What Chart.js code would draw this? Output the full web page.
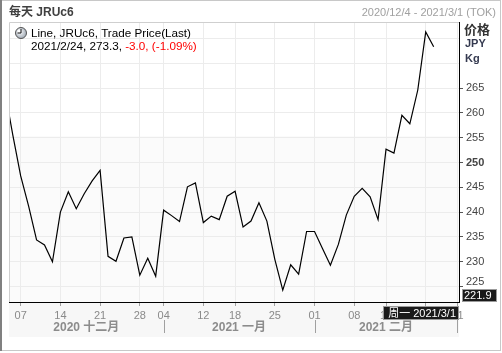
<!DOCTYPE html>
<html>
<head>
<meta charset="utf-8">
<script src="https://cdn.jsdelivr.net/npm/chart.js@4/dist/chart.umd.min.js"></script>
<style>
  html, body { margin: 0; padding: 0; background: #fff; }
  canvas { display: block; }
</style>
</head>
<body>
<canvas id="priceChart" width="502" height="353"></canvas>
<script>
// trading days (TOCOM), first one sits just left of the visible range
const tradeDates = [
  '2020-12-03', '2020-12-04', '2020-12-07', '2020-12-08', '2020-12-09', '2020-12-10', '2020-12-11',
  '2020-12-14', '2020-12-15', '2020-12-16', '2020-12-17', '2020-12-18',
  '2020-12-21', '2020-12-22', '2020-12-23', '2020-12-24', '2020-12-25',
  '2020-12-28', '2020-12-29', '2020-12-30',
  '2021-01-04', '2021-01-05', '2021-01-06', '2021-01-07', '2021-01-08',
  '2021-01-12', '2021-01-13', '2021-01-14', '2021-01-15',
  '2021-01-18', '2021-01-19', '2021-01-20', '2021-01-21', '2021-01-22',
  '2021-01-25', '2021-01-26', '2021-01-27', '2021-01-28', '2021-01-29',
  '2021-02-01', '2021-02-02', '2021-02-03', '2021-02-04', '2021-02-05',
  '2021-02-08', '2021-02-09', '2021-02-10', '2021-02-12',
  '2021-02-15', '2021-02-16', '2021-02-17', '2021-02-18', '2021-02-19',
  '2021-02-22', '2021-02-24', '2021-02-25', '2021-02-26',
  '2021-03-01'
];

// JRUc6 last trade price, JPY/kg
const prices = [
  264.5, 255.6, 247.3, 241.2, 234.4, 233.4, 230.0,
  240.0, 244.1, 240.7, 243.7, 246.3,
  248.4, 231.1, 230.1, 234.8, 235.0,
  227.3, 230.7, 227.1,
  240.4, 239.3, 238.1, 245.1, 245.9,
  237.9, 239.2, 238.5, 243.2,
  244.2, 237.0, 238.2, 241.9, 238.2,
  230.5, 224.3, 229.4, 227.5, 236.1,
  236.1, 232.7, 229.3, 233.5, 239.4,
  243.2, 244.8, 243.1, 238.5,
  252.7, 251.9, 259.5, 257.8, 264.6,
  276.3, 273.3
];

const yTicks = [225, 230, 235, 240, 245, 250, 255, 260, 265, 270, 275];
const monthNames = ['一月', '二月', '三月', '四月', '五月', '六月', '七月', '八月', '九月', '十月', '十一月', '十二月'];
const weekNames = ['周日', '周一', '周二', '周三', '周四', '周五', '周六'];

const title = '每天 JRUc6';
const rangeText = '2020/12/4 - 2021/3/1 (TOK)';
const legendName = 'Line, JRUc6, Trade Price(Last)';
const lastText = '2021/2/24, 273.3, ';
const changeText = '-3.0, (-1.09%)';
const axisUnits = ['价格', 'JPY', 'Kg'];
const yMinValue = 221.9;
const yMaxValue = 278.3;

const FONT = "'Liberation Sans', Arial, 'Noto Sans CJK SC', sans-serif";

function parseDate(s) {
    const p = s.split('-').map(Number);
    return new Date(p[0], p[1] - 1, p[2]);
}
const days = tradeDates.map(parseDate);

// first trading day of every week gets a tick
const weekStarts = [];
days.forEach((d, i) => {
    if (i === 0) return;
    const prev = days[i - 1];
    if (d.getDay() <= prev.getDay() || (d - prev) > 6 * 86400000) weekStarts.push(i);
});

// first trading day of each month
const monthStarts = [];
days.forEach((d, i) => {
    if (i === 0 || d.getMonth() !== days[i - 1].getMonth()) monthStarts.push(i);
});

function pad2(n) {
    return n < 10 ? '0' + n : String(n);
}

const decorations = {
    id: 'decorations',
    beforeDraw(chart) {
        const { ctx, chartArea: a, scales } = chart;
        ctx.save();
        ctx.fillStyle = '#ffffff';
        ctx.fillRect(0, 0, chart.width, chart.height);
        const split = scales.y.getPixelForValue(255.3);
        ctx.fillStyle = '#fbfbfb';
        ctx.fillRect(a.left, split, a.right - a.left, a.bottom - split);
        ctx.fillStyle = '#f7f7f7';
        ctx.fillRect(a.left, a.bottom, a.right - a.left, 35);
        ctx.restore();
    },
    afterDraw(chart) {
        const { ctx, chartArea: a, scales } = chart;
        const x = scales.x, y = scales.y;
        ctx.save();

        // outer frame
        ctx.strokeStyle = '#c8c8c8';
        ctx.lineWidth = 1;
        ctx.strokeRect(0.5, 0.5, 500, 350);
        ctx.fillStyle = '#808080';
        ctx.fillRect(0, 0, 2, 351);

        // plot box top / left
        ctx.strokeStyle = '#cfcfcf';
        ctx.beginPath();
        ctx.moveTo(a.left + 0.5, a.bottom);
        ctx.lineTo(a.left + 0.5, a.top + 0.5);
        ctx.lineTo(a.right, a.top + 0.5);
        ctx.stroke();

        // header
        ctx.textBaseline = 'middle';
        ctx.fillStyle = '#404040';
        ctx.font = 'bold 12px ' + FONT;
        ctx.textAlign = 'left';
        ctx.fillText(title, 9, 12.5);
        ctx.fillStyle = '#a0a0a0';
        ctx.font = '11px ' + FONT;
        ctx.textAlign = 'right';
        ctx.fillText(rangeText, 496, 12.5);

        // legend with clock icon
        const cx = 21, cy = 33;
        const g = ctx.createRadialGradient(cx - 2, cy - 2, 1, cx, cy, 6);
        g.addColorStop(0, '#ffffff');
        g.addColorStop(1, '#9aa4b0');
        ctx.fillStyle = g;
        ctx.beginPath();
        ctx.arc(cx, cy, 5.5, 0, Math.PI * 2);
        ctx.fill();
        ctx.strokeStyle = '#555';
        ctx.stroke();
        ctx.strokeStyle = '#111';
        ctx.beginPath();
        ctx.moveTo(cx, cy - 4);
        ctx.lineTo(cx, cy);
        ctx.lineTo(cx - 3.5, cy);
        ctx.stroke();

        ctx.textAlign = 'left';
        ctx.font = '11.7px ' + FONT;
        ctx.fillStyle = '#000';
        ctx.fillText(legendName, 31, 33.5);
        ctx.fillText(lastText, 31, 47);
        const w = ctx.measureText(lastText).width;
        ctx.fillStyle = '#ff0000';
        ctx.fillText(changeText, 31 + w, 47);

        // axis units at top right
        ctx.fillStyle = '#333';
        ctx.font = 'bold 13px ' + FONT;
        ctx.fillText(axisUnits[0], 464, 30);
        ctx.fillStyle = '#353a50';
        ctx.font = 'bold 11px ' + FONT;
        ctx.fillText(axisUnits[1], 465, 44);
        ctx.fillText(axisUnits[2], 465, 59);

        // lowest tick label, lifted above the value box
        ctx.fillStyle = '#444';
        ctx.font = '11px ' + FONT;
        ctx.fillText('225', 466, y.getPixelForValue(225) - 5);

        // month bands under the axis
        ctx.strokeStyle = '#a0a0a0';
        ctx.font = 'bold 12px ' + FONT;
        ctx.fillStyle = '#8c8c8c';
        ctx.textAlign = 'center';
        monthStarts.forEach((idx, k) => {
            const start = Math.max(x.getPixelForValue(idx), a.left);
            const end = k + 1 < monthStarts.length ? x.getPixelForValue(monthStarts[k + 1]) : a.right;
            if (idx > 0 && start > a.left) {
                ctx.beginPath();
                ctx.moveTo(Math.round(start) + 0.5, 320);
                ctx.lineTo(Math.round(start) + 0.5, 333);
                ctx.stroke();
            }
            if (end - start > 60) {
                const d = days[idx];
                ctx.fillText(d.getFullYear() + ' ' + monthNames[d.getMonth()], (start + end) / 2, 327.5);
            }
        });

        // cursor date box on the x axis
        const last = days[days.length - 1];
        ctx.fillStyle = '#1a1a1a';
        ctx.fillRect(383, 306, a.right - 383, 14);
        ctx.strokeStyle = '#9a9a9a';
        ctx.strokeRect(383.5, 306.5, a.right - 384, 13);
        ctx.fillStyle = '#fff';
        ctx.font = '11px ' + FONT;
        ctx.textAlign = 'right';
        ctx.fillText(weekNames[last.getDay()] + ' ' + last.getFullYear() + '/' + (last.getMonth() + 1) + '/' + last.getDate(), a.right - 3, 313.5);

        // axis minimum value box
        ctx.fillStyle = '#1a1a1a';
        ctx.fillRect(462, 289, 35, 13);
        ctx.strokeStyle = '#9a9a9a';
        ctx.strokeRect(462.5, 289.5, 34, 12);
        ctx.fillStyle = '#fff';
        ctx.textAlign = 'left';
        ctx.fillText(yMinValue.toFixed(1), 464, 296);

        ctx.restore();
    }
};

new Chart(document.getElementById('priceChart'), {
    type: 'line',
    data: {
        datasets: [{
            data: prices.map((v, i) => ({ x: i, y: v })),
            borderColor: '#000',
            borderWidth: 1.2,
            pointRadius: 0,
            tension: 0,
            fill: false,
        }],
    },
    options: {
        responsive: false,
        animation: false,
        devicePixelRatio: 1,
        layout: { padding: { left: 9, top: 22, right: 0, bottom: 0 } },
        plugins: {
            legend: { display: false },
            tooltip: { enabled: false },
        },
        scales: {
            x: {
                type: 'linear',
                min: 0.53,
                max: 57.19,
                afterBuildTicks: (s) => { s.ticks = weekStarts.map((i) => ({ value: i })); },
                afterFit: (s) => { s.height = 51; },
                ticks: {
                    autoSkip: false,
                    maxRotation: 0,
                    padding: 3,
                    color: '#8a8a8a',
                    font: { family: FONT, size: 11 },
                    callback: (v) => pad2(days[v].getDate()),
                },
                grid: { color: '#ececec', tickColor: '#a0a0a0', tickLength: 4 },
                border: { color: '#000', width: 1 },
            },
            y: {
                position: 'right',
                min: yMinValue,
                max: yMaxValue,
                afterBuildTicks: (s) => { s.ticks = yTicks.map((v) => ({ value: v })); },
                afterFit: (s) => { s.width = 43; },
                ticks: {
                    padding: 3,
                    color: '#444',
                    font: (c) => ({ family: FONT, size: 11, weight: c.tick && c.tick.value === 250 ? 'bold' : 'normal' }),
                    callback: (v) => (v === 225 || v > 265 ? '' : String(v)),
                },
                grid: {
                    color: '#ececec',
                    tickColor: (c) => (c.tick && c.tick.value > 265 ? 'rgba(0,0,0,0)' : '#555'),
                    tickLength: 4,
                },
                border: { color: '#000', width: 1 },
            },
        },
    },
    plugins: [decorations],
});
</script>
</body>
</html>
